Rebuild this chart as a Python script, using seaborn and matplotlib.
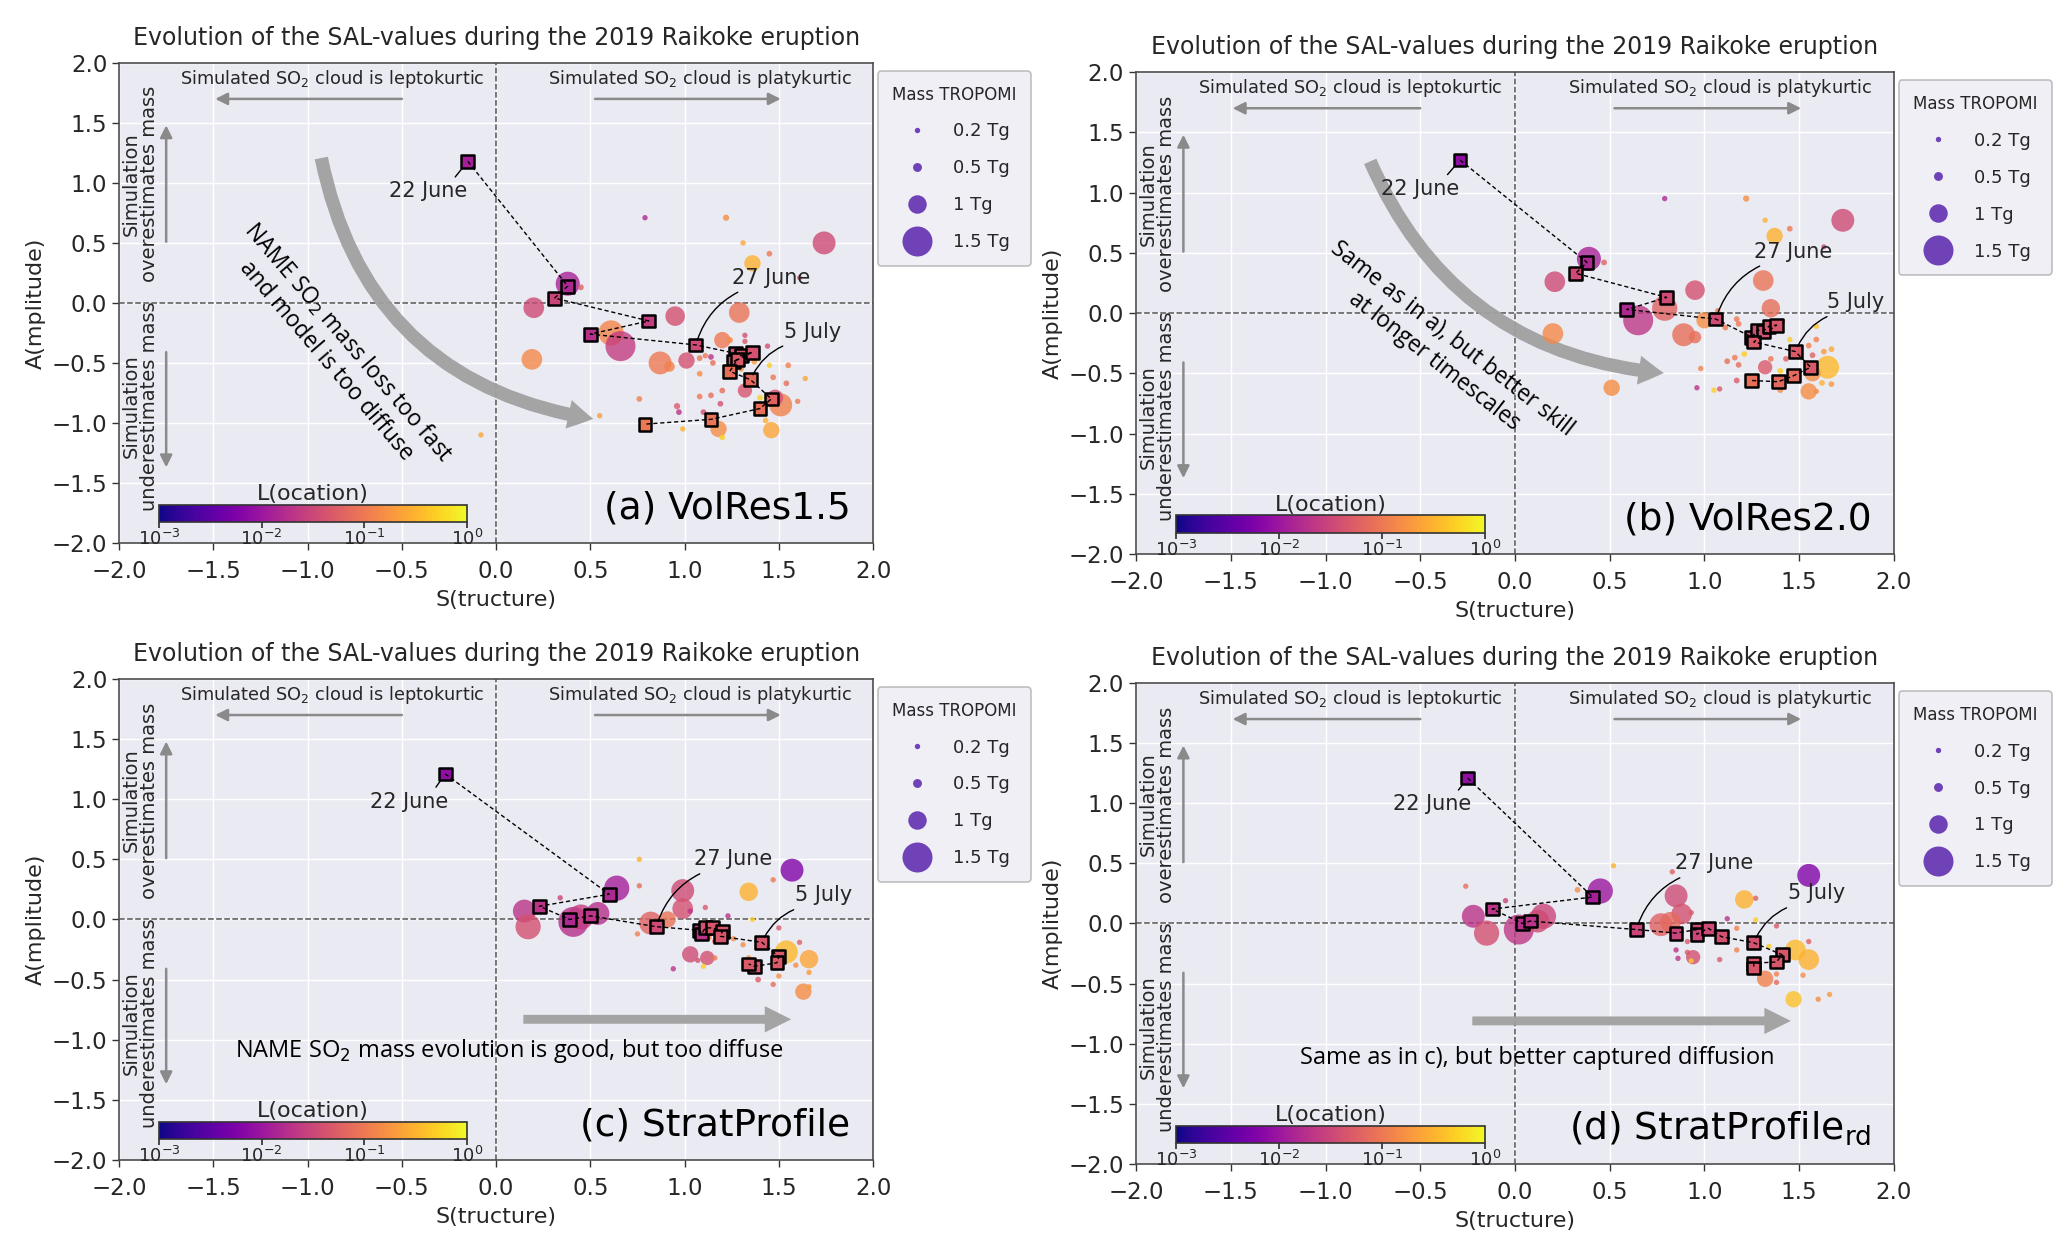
import numpy as np
import pandas as pd
import seaborn as sns
import matplotlib.pyplot as plt
from matplotlib.colors import LogNorm
from matplotlib.cm import ScalarMappable
from matplotlib.lines import Line2D
from matplotlib.patches import FancyArrowPatch

# ---------------- data ----------------
# panel a: VolRes1.5  -- circles (S, A, L, TROPOMI mass in Tg)
a_dots_s = [0.79, 1.22, 1.31, 1.45, 1.36, 1.74, 1.61, 0.38, 0.45, 0.20, 0.95, 1.29, 0.61, 0.66, 0.19,
            0.87, 0.92, 1.01, 1.20, 1.32, 1.51, 1.48, 1.46, 1.18, 1.08, 1.08, 1.08, 1.08, 1.14, 1.20,
            1.19, 0.96, 0.97, 1.10, 0.76, 0.55, -0.08, 0.99, 1.20, 1.43, 1.60, 1.64, 1.54, 1.55, 1.45,
            1.44, 1.32, 1.32, 1.37, 1.47, 1.40, 1.15, 1.14, 1.11, 1.24, 1.30]
a_dots_a = [0.71, 0.71, 0.50, 0.41, 0.33, 0.50, 0.21, 0.16, 0.13, -0.04, -0.11, -0.08, -0.25, -0.36, -0.47,
            -0.50, -0.53, -0.48, -0.31, -0.73, -0.85, -0.79, -1.06, -1.05, -0.38, -0.46, -0.59, -0.78, -0.77, -0.73,
            -0.84, -0.86, -0.91, -0.91, -0.80, -0.94, -1.10, -1.05, -1.12, -0.98, -0.82, -0.63, -0.67, -0.52, -0.52,
            -0.36, -0.27, -0.32, -0.49, -0.62, -0.79, -0.50, -0.45, -0.44, -0.31, -0.55]
a_dots_l = [0.015, 0.15, 0.25, 0.10, 0.30, 0.035, 0.05, 0.013, 0.06, 0.035, 0.04, 0.09, 0.13, 0.025, 0.14,
            0.10, 0.12, 0.04, 0.10, 0.045, 0.12, 0.04, 0.25, 0.15, 0.10, 0.10, 0.15, 0.10, 0.08, 0.08,
            0.04, 0.05, 0.02, 0.04, 0.12, 0.20, 0.25, 0.30, 0.50, 0.30, 0.10, 0.25, 0.08, 0.12, 0.50,
            0.04, 0.04, 0.05, 0.20, 0.10, 0.50, 0.08, 0.02, 0.10, 0.15, 0.20]
a_dots_m = [0.2, 0.3, 0.2, 0.25, 0.9, 1.2, 0.15, 1.25, 0.25, 1.1, 1.05, 1.1, 1.3, 1.5, 1.1,
            1.2, 0.6, 0.9, 0.9, 0.8, 1.2, 0.9, 0.9, 0.9, 0.2, 0.25, 0.25, 0.25, 0.25, 0.25,
            0.25, 0.3, 0.25, 0.25, 0.25, 0.2, 0.2, 0.2, 0.25, 0.25, 0.2, 0.2, 0.25, 0.25, 0.2,
            0.2, 0.2, 0.2, 0.25, 0.25, 0.25, 0.25, 0.25, 0.2, 0.3, 0.25]
# panel a -- daily track (squares)
a_track_s = [-0.15, 0.38, 0.31, 0.81, 0.50, 1.06, 1.27, 1.30, 1.36, 1.26, 1.28, 1.24, 1.35, 1.46, 1.40, 1.14, 0.79]
a_track_a = [1.18, 0.14, 0.04, -0.15, -0.26, -0.35, -0.42, -0.44, -0.41, -0.49, -0.47, -0.57, -0.64, -0.80, -0.88, -0.97, -1.01]
a_track_l = [0.012, 0.015, 0.03, 0.025, 0.018, 0.035, 0.04, 0.045, 0.04, 0.04, 0.05, 0.08, 0.07, 0.06, 0.08, 0.09, 0.10]

# panel b: VolRes2.0
b_dots_s = [0.79, 1.22, 1.32, 1.45, 1.37, 1.73, 1.63, 0.39, 0.47, 0.21, 0.95, 1.31, 0.79, 0.65, 0.20,
            0.89, 0.95, 1.00, 1.35, 1.32, 1.65, 1.57, 1.55, 0.51, 1.07, 1.17, 1.11, 1.18, 1.41, 1.45,
            1.59, 1.55, 1.67, 1.63, 1.57, 1.43, 1.35, 1.40, 1.16, 1.12, 1.18, 1.21, 0.98, 1.17, 0.96,
            1.05, 1.08, 1.40, 1.59, 1.62, 1.67, 1.59]
b_dots_a = [0.95, 0.95, 0.77, 0.70, 0.64, 0.77, 0.55, 0.45, 0.42, 0.26, 0.19, 0.27, 0.04, -0.06, -0.17,
            -0.18, -0.20, -0.06, 0.04, -0.45, -0.45, -0.50, -0.65, -0.62, 0.02, -0.05, -0.12, -0.09, -0.07, -0.22,
            -0.22, -0.27, -0.30, -0.32, -0.35, -0.38, -0.38, -0.48, -0.37, -0.40, -0.43, -0.34, -0.46, -0.56, -0.62,
            -0.64, -0.63, -0.64, -0.65, -0.58, -0.59, -0.11]
b_dots_l = [0.015, 0.15, 0.30, 0.10, 0.30, 0.035, 0.03, 0.013, 0.06, 0.035, 0.04, 0.09, 0.06, 0.022, 0.14,
            0.08, 0.08, 0.15, 0.08, 0.05, 0.35, 0.15, 0.15, 0.15, 0.10, 0.10, 0.10, 0.10, 0.05, 0.50,
            0.12, 0.12, 0.25, 0.20, 0.06, 0.06, 0.10, 0.50, 0.10, 0.08, 0.08, 0.50, 0.12, 0.05, 0.02,
            0.50, 0.05, 0.15, 0.15, 0.30, 0.20, 0.40]
b_dots_m = [0.2, 0.3, 0.2, 0.25, 0.9, 1.2, 0.15, 1.25, 0.25, 1.1, 1.05, 1.1, 1.3, 1.5, 1.1,
            1.2, 0.7, 0.9, 1.0, 0.8, 1.2, 0.9, 0.9, 0.9, 0.2, 0.25, 0.25, 0.25, 0.25, 0.2,
            0.25, 0.25, 0.25, 0.25, 0.25, 0.25, 0.25, 0.25, 0.25, 0.25, 0.25, 0.25, 0.2, 0.25, 0.2,
            0.2, 0.2, 0.25, 0.2, 0.25, 0.25, 0.2]
b_track_s = [-0.29, 0.38, 0.32, 0.80, 0.59, 1.06, 1.25, 1.28, 1.31, 1.34, 1.38, 1.26, 1.48, 1.56, 1.47, 1.39, 1.25]
b_track_a = [1.27, 0.42, 0.33, 0.13, 0.03, -0.05, -0.20, -0.14, -0.15, -0.11, -0.10, -0.24, -0.32, -0.45, -0.52, -0.57, -0.56]
b_track_l = [0.008, 0.015, 0.035, 0.035, 0.015, 0.035, 0.04, 0.04, 0.04, 0.045, 0.045, 0.05, 0.05, 0.05, 0.07, 0.07, 0.08]

# panel c: StratProfile
c_dots_s = [0.76, 1.57, 1.47, 1.34, 0.64, 0.99, 0.99, 0.76, 0.34, 0.15, 0.17, 0.41, 0.45, 0.54, 0.82,
            0.91, 1.11, 1.03, 1.23, 1.36, 1.50, 1.61, 1.54, 1.66, 1.59, 1.66, 1.63, 1.66, 1.47, 1.39,
            1.50, 1.34, 1.31, 1.26, 1.03, 1.12, 1.07, 1.16, 1.10, 0.94, 0.75, 1.13, 1.16]
c_dots_a = [0.50, 0.41, 0.33, 0.23, 0.26, 0.24, 0.09, 0.28, 0.18, 0.07, -0.06, -0.02, 0.02, 0.05, -0.03,
            0.00, 0.10, 0.07, 0.03, 0.00, -0.07, -0.19, -0.27, -0.33, -0.38, -0.44, -0.60, -0.56, -0.54, -0.50,
            -0.47, -0.32, -0.21, -0.16, -0.29, -0.32, -0.34, -0.32, -0.39, -0.41, -0.12, -0.15, -0.18]
c_dots_l = [0.30, 0.006, 0.10, 0.30, 0.012, 0.035, 0.04, 0.08, 0.03, 0.02, 0.04, 0.018, 0.025, 0.018, 0.06,
            0.09, 0.05, 0.02, 0.02, 0.50, 0.05, 0.06, 0.35, 0.25, 0.15, 0.20, 0.15, 0.20, 0.08, 0.05,
            0.15, 0.15, 0.15, 0.15, 0.035, 0.04, 0.04, 0.10, 0.50, 0.02, 0.12, 0.15, 0.06]
c_dots_m = [0.2, 1.2, 0.2, 1.0, 1.3, 1.2, 1.1, 0.2, 0.2, 1.2, 1.3, 1.5, 1.3, 1.2, 1.2,
            0.9, 0.2, 0.2, 0.2, 0.15, 0.2, 0.2, 1.2, 1.0, 0.2, 0.2, 0.9, 0.2, 0.2, 0.25,
            0.2, 0.2, 0.2, 0.2, 0.9, 0.8, 0.2, 0.2, 0.2, 0.2, 0.2, 0.2, 0.2]
c_track_s = [-0.27, 0.60, 0.23, 0.39, 0.50, 0.85, 1.08, 1.09, 1.11, 1.15, 1.20, 1.19, 1.41, 1.50, 1.49, 1.37, 1.34]
c_track_a = [1.21, 0.21, 0.11, 0.00, 0.03, -0.06, -0.09, -0.12, -0.07, -0.07, -0.10, -0.14, -0.19, -0.31, -0.36, -0.39, -0.37]
c_track_l = [0.008, 0.015, 0.02, 0.015, 0.02, 0.035, 0.025, 0.02, 0.04, 0.045, 0.045, 0.045, 0.045, 0.05, 0.05, 0.05, 0.05]

# panel d: StratProfile_rd
d_dots_s = [0.52, 0.83, 1.55, 1.21, 1.27, 0.45, 0.33, -0.26, -0.05, -0.22, -0.15, 0.02, 0.15, 0.12, 0.85,
            0.88, 0.77, 0.82, 0.93, 1.12, 1.27, 1.17, 1.38, 0.91, 0.85, 0.91, 0.86, 0.94, 0.93, 1.08,
            1.17, 1.34, 1.48, 1.55, 1.55, 1.32, 1.38, 1.38, 1.52, 1.47, 1.60, 1.66, 0.64]
d_dots_a = [0.48, 0.43, 0.40, 0.20, 0.21, 0.27, 0.28, 0.31, 0.19, 0.06, -0.08, -0.05, 0.06, 0.02, 0.23,
            0.08, -0.01, 0.01, 0.09, 0.04, 0.03, -0.04, -0.02, -0.15, -0.22, -0.24, -0.29, -0.28, -0.31, -0.30,
            -0.22, -0.19, -0.22, -0.30, -0.15, -0.46, -0.42, -0.49, -0.43, -0.63, -0.63, -0.59, -0.07]
d_dots_l = [0.30, 0.06, 0.006, 0.30, 0.06, 0.01, 0.15, 0.08, 0.03, 0.02, 0.04, 0.022, 0.03, 0.035, 0.035,
            0.04, 0.06, 0.07, 0.05, 0.02, 0.50, 0.12, 0.05, 0.05, 0.02, 0.05, 0.02, 0.04, 0.50, 0.05,
            0.12, 0.50, 0.35, 0.30, 0.06, 0.12, 0.12, 0.07, 0.15, 0.40, 0.15, 0.20, 0.15]
d_dots_m = [0.2, 0.2, 1.2, 1.0, 0.2, 1.3, 0.25, 0.2, 0.2, 1.2, 1.3, 1.5, 1.3, 1.2, 1.2,
            1.1, 1.2, 1.1, 0.2, 0.2, 0.2, 0.2, 0.2, 0.2, 0.2, 0.2, 0.2, 0.8, 0.15, 0.2,
            0.2, 0.2, 1.1, 1.1, 0.2, 0.9, 0.2, 0.2, 0.2, 0.9, 0.2, 0.2, 0.2]
d_track_s = [-0.25, 0.41, -0.12, 0.04, 0.08, 0.64, 0.85, 0.96, 0.96, 1.02, 1.09, 1.26, 1.41, 1.38, 1.26, 1.26]
d_track_a = [1.21, 0.22, 0.12, 0.00, 0.02, -0.05, -0.08, -0.05, -0.09, -0.04, -0.11, -0.16, -0.26, -0.32, -0.33, -0.37]
d_track_l = [0.008, 0.012, 0.02, 0.018, 0.02, 0.03, 0.03, 0.035, 0.03, 0.035, 0.04, 0.04, 0.045, 0.045, 0.045, 0.045]

legend_masses = [0.2, 0.5, 1, 1.5]
legend_labels = ['0.2 Tg', '0.5 Tg', '1 Tg', '1.5 Tg']

TITLE = 'Evolution of the SAL-values during the 2019 Raikoke eruption'
LNORM = LogNorm(1e-3, 1)
TXT = '#262626'
GREY = '#8a8a8a'


def mass_area(m):
    return 12 + 165 * np.asarray(m, dtype=float) ** 2.5


def draw_panel(ax, dots, track, label, i27, i5, txt22, txt27, txt5, arrow, note):
    sns.scatterplot(data=dots, x='S', y='A', hue='L', hue_norm=LNORM, palette='plasma',
                    s=mass_area(dots['M']), alpha=0.8, linewidth=0, legend=False, zorder=3, ax=ax)
    sns.scatterplot(data=track, x='S', y='A', hue='L', hue_norm=LNORM, palette='plasma',
                    marker='s', s=85, edgecolor='black', linewidth=1.8, legend=False, zorder=5, ax=ax)
    sns.lineplot(data=track, x='S', y='A', sort=False, estimator=None, color='black',
                 lw=1.0, linestyle=(0, (3, 2)), zorder=6, ax=ax)

    ax.axhline(0, color='#555555', ls='--', lw=1.1, zorder=1.5)
    ax.axvline(0, color='#555555', ls='--', lw=1.1, zorder=1.5)

    ax.set_xlim(-2, 2)
    ax.set_ylim(-2, 2)
    ax.set_xticks(np.arange(-2, 2.01, 0.5))
    ax.set_yticks(np.arange(-2, 2.01, 0.5))
    ax.tick_params(labelsize=16.5, length=5, width=1, colors='#333333', labelcolor=TXT)
    ax.tick_params(axis='x', pad=7)
    ax.set_xlabel('S(tructure)', fontsize=16, color=TXT, labelpad=5)
    ax.set_ylabel('A(mplitude)', fontsize=16, color=TXT, labelpad=4)
    ax.set_title(TITLE, fontsize=17, color=TXT, pad=13)

    # explanatory arrows and texts
    ax.text(-0.87, 1.87, 'Simulated SO$_2$ cloud is leptokurtic', fontsize=12.8, ha='center', va='center', color=TXT)
    ax.text(1.08, 1.87, 'Simulated SO$_2$ cloud is platykurtic', fontsize=12.8, ha='center', va='center', color=TXT)
    ap = dict(arrowstyle='-|>', color=GREY, lw=1.8, mutation_scale=18, shrinkA=0, shrinkB=0)
    ax.annotate('', xy=(-1.49, 1.7), xytext=(-0.50, 1.7), arrowprops=ap)
    ax.annotate('', xy=(1.51, 1.7), xytext=(0.525, 1.7), arrowprops=ap)
    ax.annotate('', xy=(-1.75, 1.48), xytext=(-1.75, 0.51), arrowprops=ap)
    ax.annotate('', xy=(-1.75, -1.37), xytext=(-1.75, -0.41), arrowprops=ap)
    ax.text(-1.885, 0.99, 'Simulation\noverestimates mass', rotation=90, fontsize=14,
            ha='center', va='center', linespacing=0.95, color=TXT)
    ax.text(-1.885, -0.86, 'Simulation\nunderestimates mass', rotation=90, fontsize=14,
            ha='center', va='center', linespacing=0.95, color=TXT)

    # date annotations
    ax.annotate('22 June', xy=(track['S'][0], track['A'][0]), xytext=txt22, fontsize=15,
                ha='center', va='center', color=TXT, zorder=7,
                arrowprops=dict(arrowstyle='-', color='black', lw=1, shrinkA=1, shrinkB=6, relpos=(0.8, 1.0)))
    for name, i, pos in [('27 June', i27, txt27), ('5 July', i5, txt5)]:
        ax.annotate(name, xy=(track['S'][i], track['A'][i]), xytext=pos, fontsize=15,
                    ha='center', va='center', color=TXT, zorder=7,
                    arrowprops=dict(arrowstyle='-', color='black', lw=1, shrinkA=2, shrinkB=4,
                                    relpos=(0.2, 0.0), connectionstyle='arc3,rad=0.25'))

    # big grey arrow and its comment
    (x0, y0), (x1, y1), rad, style = arrow
    ax.add_patch(FancyArrowPatch((x0, y0), (x1, y1), connectionstyle=f'arc3,rad={rad}',
                                 arrowstyle=style, mutation_scale=20, color='#a0a0a0',
                                 alpha=0.95, lw=0, zorder=2.5))
    ntext, (nx, ny), nrot, nsize = note
    ax.text(nx, ny, ntext, rotation=nrot, rotation_mode='anchor', fontsize=nsize,
            family='Open Sans', ha='center', va='center', multialignment='center',
            linespacing=1.25, color='black', zorder=7)

    ax.text(0.97, 0.035, label, transform=ax.transAxes, fontsize=27, ha='right', va='bottom',
            color='black', zorder=8)

    # location colour bar
    cax = ax.inset_axes([0.053, 0.044, 0.408, 0.036])
    cb = plt.colorbar(ScalarMappable(norm=LNORM, cmap='plasma'), cax=cax, orientation='horizontal')
    cb.set_ticks([1e-3, 1e-2, 1e-1, 1])
    cax.minorticks_off()
    cax.tick_params(labelsize=13, length=4, colors='#333333', labelcolor=TXT, pad=1)
    cb.set_label('L(ocation)', fontsize=16, color=TXT, labelpad=3)
    cax.xaxis.set_label_position('top')
    cb.outline.set_edgecolor('#333333')

    # mass legend
    handles = [Line2D([], [], ls='', marker='o', markersize=np.sqrt(mass_area(m)), color='#6f42b8',
                      markeredgewidth=0) for m in legend_masses]
    leg = ax.legend(handles, legend_labels, title='Mass TROPOMI', loc='upper left',
                    bbox_to_anchor=(1.006, 0.983), borderaxespad=0, fontsize=13, title_fontsize=12,
                    labelspacing=1.05, handletextpad=1.0, borderpad=0.8, frameon=True, fancybox=True)
    leg.get_frame().set_facecolor('#ececf3')
    leg.get_frame().set_edgecolor('#b0b0b0')
    leg.get_frame().set_linewidth(1.2)


sns.set_theme(style='darkgrid')
plt.rcParams['font.family'] = ['DejaVu Sans']
plt.rcParams['axes.edgecolor'] = '#4d4d4d'
plt.rcParams['axes.linewidth'] = 1.2
plt.rcParams['xtick.bottom'] = True
plt.rcParams['ytick.left'] = True

fig = plt.figure(figsize=(20.67, 12.58), dpi=100)
positions = [[0.0576, 0.5684, 0.3648, 0.3816], [0.5496, 0.5596, 0.3667, 0.3831],
             [0.0576, 0.0779, 0.3648, 0.3824], [0.5496, 0.0747, 0.3667, 0.3824]]

panels = [
    (a_dots_s, a_dots_a, a_dots_l, a_dots_m, a_track_s, a_track_a, a_track_l),
    (b_dots_s, b_dots_a, b_dots_l, b_dots_m, b_track_s, b_track_a, b_track_l),
    (c_dots_s, c_dots_a, c_dots_l, c_dots_m, c_track_s, c_track_a, c_track_l),
    (d_dots_s, d_dots_a, d_dots_l, d_dots_m, d_track_s, d_track_a, d_track_l),
]
labels = ['(a) VolRes1.5', '(b) VolRes2.0', '(c) StratProfile', '(d) StratProfile$_{\\mathrm{rd}}$']
i27 = [5, 5, 5, 5]
i5 = [12, 12, 12, 11]
txt22 = [(-0.36, 0.93), (-0.50, 1.03), (-0.46, 0.98), (-0.44, 0.99)]
txt27 = [(1.46, 0.21), (1.47, 0.51), (1.26, 0.50), (1.05, 0.50)]
txt5 = [(1.68, -0.24), (1.80, 0.09), (1.74, 0.20), (1.59, 0.25)]
curved = 'simple,head_width=1.05,head_length=0.9,tail_width=0.48'
straight = 'simple,head_width=0.95,head_length=0.95,tail_width=0.32'
arrows = [((-0.93, 1.23), (0.53, -0.97), 0.35, curved),
          ((-0.77, 1.28), (0.80, -0.50), 0.3, curved),
          ((0.13, -0.83), (1.58, -0.83), 0.0, straight),
          ((-0.24, -0.81), (1.47, -0.81), 0.0, straight)]
notes = [('NAME SO$_2$ mass loss too fast\nand model is too diffuse', (-0.84, -0.40), -49.5, 16.3),
         ('Same as in a), but better skill\nat longer timescales', (-0.38, -0.31), -38, 16.3),
         ('NAME SO$_2$ mass evolution is good, but too diffuse', (0.07, -1.09), 0, 17),
         ('Same as in c), but better captured diffusion', (0.12, -1.12), 0, 17)]

for k in range(4):
    ds, da, dl, dm, ts, ta, tl = panels[k]
    dots = pd.DataFrame({'S': ds, 'A': da, 'L': dl, 'M': dm})
    track = pd.DataFrame({'S': ts, 'A': ta, 'L': tl})
    ax = fig.add_axes(positions[k])
    draw_panel(ax, dots, track, labels[k], i27[k], i5[k], txt22[k], txt27[k], txt5[k], arrows[k], notes[k])

fig.savefig('out.png', dpi=100)
